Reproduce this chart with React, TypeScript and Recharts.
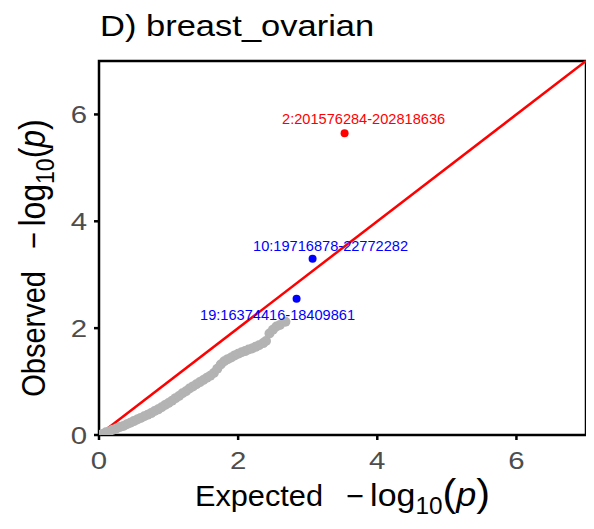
import React from "react";
import { ScatterChart, Scatter, XAxis, YAxis, ReferenceLine, ReferenceArea } from "recharts";

// QQ values (bulk of loci, grey)
const qqExpected = [
  0, 0.05, 0.1, 0.15, 0.2, 0.25, 0.3, 0.35, 0.4, 0.45, 0.5, 0.55, 0.6, 0.65, 0.7, 0.75, 0.8, 0.85,
  0.9, 0.95, 1.0, 1.05, 1.1, 1.15, 1.2, 1.25, 1.3, 1.35, 1.4, 1.45, 1.5, 1.55, 1.6, 1.65, 1.7,
  1.75, 1.8, 1.85, 1.9, 1.95, 2.0, 2.05, 2.1, 2.15, 2.2, 2.25, 2.3, 2.36, 2.4, 2.45, 2.5, 2.55,
  2.6, 2.68,
];
const qqObserved = [
  0, 0.02, 0.05, 0.07, 0.1, 0.12, 0.15, 0.17, 0.2, 0.23, 0.26, 0.29, 0.32, 0.35, 0.38, 0.41, 0.45,
  0.48, 0.52, 0.56, 0.6, 0.64, 0.69, 0.73, 0.78, 0.82, 0.87, 0.91, 0.95, 0.99, 1.03, 1.07, 1.11,
  1.16, 1.24, 1.32, 1.38, 1.42, 1.45, 1.49, 1.52, 1.55, 1.57, 1.6, 1.62, 1.65, 1.68, 1.72, 1.76,
  1.9, 1.97, 2.03, 2.06, 2.12,
];

// highlighted regions
const redLoci = [{ x: 3.53, y: 5.65, label: "2:201576284-202818636" }];
const blueLoci = [
  { x: 3.07, y: 3.3, label: "10:19716878-22772282" },
  { x: 2.84, y: 2.55, label: "19:16374416-18409861" },
];

const axisTicks = [0, 2, 4, 6];

// label nudges (pixels), like ggrepel
const nudges: Record<string, [number, number]> = {
  "2:201576284-202818636": [19, -14],
  "10:19716878-22772282": [18, -13],
  "19:16374416-18409861": [-19, 16],
};

const FONT = '"Liberation Sans", Arial, Helvetica, sans-serif';
const SX = 1.2; // text in the reference is a little wide

const grey = qqExpected.map((x, i) => ({ x, y: qqObserved[i] }));

const GreyDot = (p: any) => <circle cx={p.cx} cy={p.cy} r={5} fill="#B3B3B3" />;

const makeDot = (color: string) => (p: any) => {
  const [dx, dy] = nudges[p.payload.label] || [0, 0];
  return (
    <g>
      <circle cx={p.cx} cy={p.cy} r={4} fill={color} />
      <text
        x={p.cx + dx}
        y={p.cy + dy}
        textAnchor="middle"
        dominantBaseline="central"
        fill={color}
        fontSize={14.6}
        fontFamily={FONT}
      >
        {p.payload.label}
      </text>
    </g>
  );
};

const XTick = (p: any) => (
  <text
    transform={`translate(${p.x},${p.y}) scale(${SX},1)`}
    textAnchor="middle"
    dy="0.71em"
    fill="#4D4D4D"
    fontSize={24.5}
    fontFamily={FONT}
  >
    {p.payload.value}
  </text>
);

const YTick = (p: any) => (
  <text
    transform={`translate(${p.x},${p.y}) scale(${SX},1)`}
    textAnchor="end"
    dy="0.36em"
    fill="#4D4D4D"
    fontSize={24.5}
    fontFamily={FONT}
  >
    {p.payload.value}
  </text>
);

const TitleText = ({ name, paren, pSize }: { name: string; paren: number; pSize: number }) => (
  <>
    <tspan fontSize={29}>{name + "\u00A0\u00A0\u2009−"}</tspan>
    <tspan fontSize={20}>{"\u00A0"}</tspan>
    <tspan fontSize={32}>log</tspan>
    <tspan fontSize={23} dy={8}>10</tspan>
    <tspan fontSize={paren} dy={-8}>(</tspan>
    <tspan fontSize={pSize} fontStyle="italic">p</tspan>
    <tspan fontSize={paren}>)</tspan>
  </>
);

const XTitle = (p: any) => {
  const vb = p.viewBox;
  return (
    <text
      transform={`translate(${vb.x + vb.width / 2},${vb.y + 71}) scale(1.06,1)`}
      textAnchor="middle"
      fill="#000"
      fontFamily={FONT}
    >
      <TitleText name="Expected" paren={39} pSize={34} />
    </text>
  );
};

const YTitle = (p: any) => {
  const vb = p.viewBox;
  return (
    <text
      transform={`translate(36.5,${vb.y + vb.height / 2 + 10}) scale(1.15,1) rotate(-90)`}
      textAnchor="middle"
      fill="#000"
      fontFamily={FONT}
    >
      <TitleText name="Observed" paren={32} pSize={32} />
    </text>
  );
};

export default function App() {
  return (
    <div style={{ position: "relative", width: 586, height: 521 }}>
      <svg
        width={586}
        height={50}
        style={{ position: "absolute", left: 0, top: 0 }}
      >
        <text
          transform={`translate(92,28) scale(1.17,1)`}
          fontSize={29.5}
          fill="#000"
          fontFamily={FONT}
        >
          D) breast_ovarian
        </text>
      </svg>
      <ScatterChart
        width={586}
        height={521}
        margin={{ top: 53, right: 8, left: 0, bottom: 0 }}
      >
        <XAxis
          type="number"
          dataKey="x"
          domain={[0, 7]}
          ticks={axisTicks}
          allowDataOverflow
          axisLine={false}
          tickLine={{ stroke: "#000", strokeWidth: 2.5 }}
          tickSize={5}
          tickMargin={12}
          tick={<XTick />}
          height={94}
          label={<XTitle />}
        />
        <YAxis
          type="number"
          dataKey="y"
          domain={[0, 7]}
          ticks={axisTicks}
          allowDataOverflow
          axisLine={false}
          tickLine={{ stroke: "#000", strokeWidth: 2.5 }}
          tickSize={5}
          tickMargin={7}
          tick={<YTick />}
          width={91}
          label={<YTitle />}
        />
        <Scatter data={grey} shape={GreyDot} isAnimationActive={false} />
        <ReferenceLine
          segment={[{ x: 0, y: 0 }, { x: 7, y: 7 }]}
          stroke="#FF0000"
          strokeWidth={2.5}
        />
        <Scatter data={blueLoci} shape={makeDot("#0000FF")} isAnimationActive={false} />
        <Scatter data={redLoci} shape={makeDot("#FF0000")} isAnimationActive={false} />
        <ReferenceArea
          x1={0}
          x2={7}
          y1={0}
          y2={7}
          fill="none"
          stroke="#000"
          strokeWidth={2.5}
          strokeOpacity={1}
        />
      </ScatterChart>
    </div>
  );
}
